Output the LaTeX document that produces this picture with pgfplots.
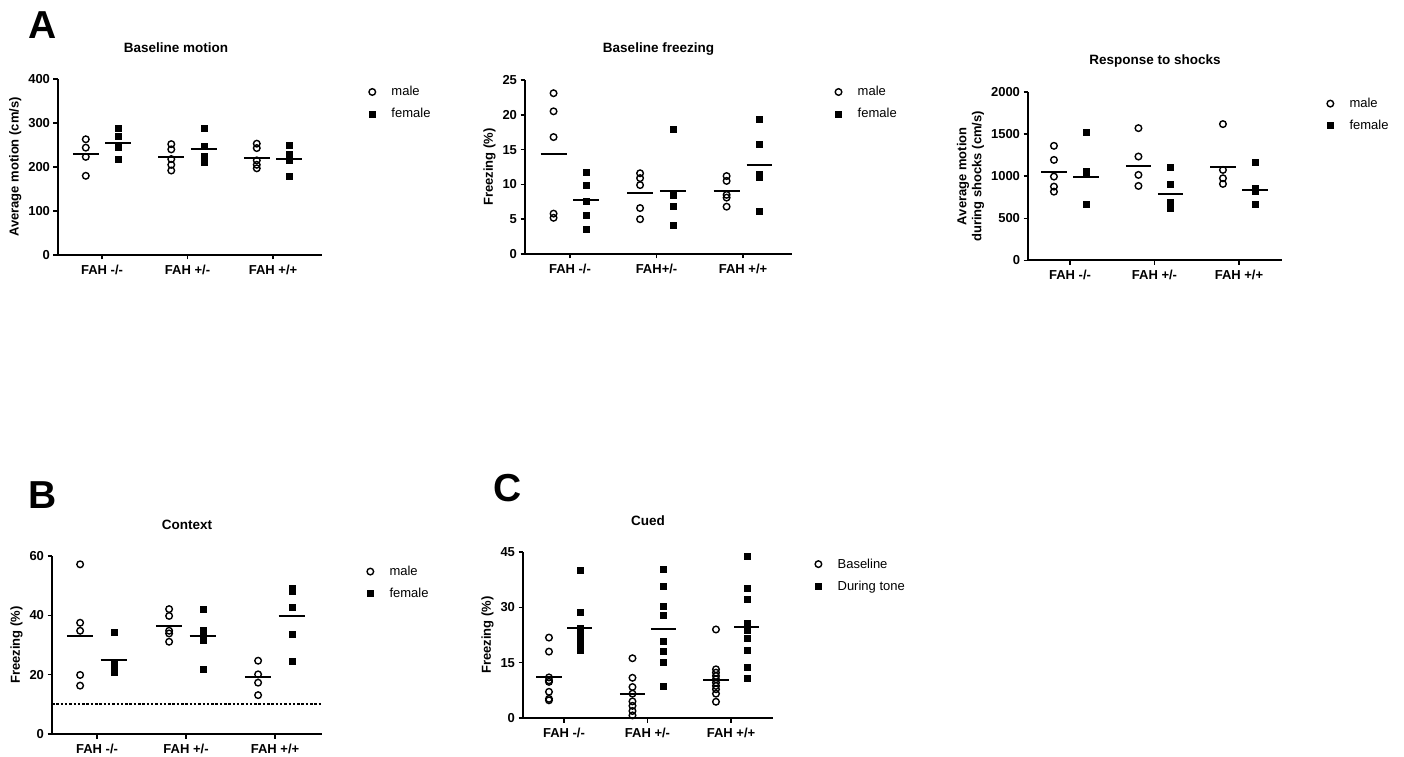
\documentclass[border=0pt]{standalone}
\usepackage{fontspec}
\setmainfont{Liberation Sans}
\usepackage{pgfplots}
\pgfplotsset{compat=1.18}

\newcommand{\tk}{\fontsize{13}{15}\selectfont\bfseries}

\pgfplotsset{
  gp/.style={scale only axis, axis lines=left, axis line style={-, line width=2pt},
    tick align=outside, major tick length=4.5pt, every tick/.style={black, line width=1.6pt},
    xtick={1,2,3}, ymin=0, clip=false,
    tick label style={font=\tk}, label style={font=\tk},
    xticklabel style={yshift=-2pt},
    /pgf/number format/assume math mode=true, /pgf/number format/1000 sep={},
    title style={font=\fontsize{13.5}{15}\selectfont\bfseries, at={(0.5,1)}, anchor=base, yshift=21pt},
    legend style={draw=none, fill=none, font=\fontsize{13}{15}\selectfont, anchor=west,
      row sep=7pt, inner sep=0pt},
    legend cell align=left},
  male/.style={only marks, mark=o, mark size=3.3pt, mark options={line width=1.4pt, black},
    legend image code/.code={\draw[##1] plot coordinates {(0pt,0pt)}; \path (-5pt,0pt) (17pt,0pt);}},
  female/.style={only marks, mark=square*, mark size=3pt, black,
    legend image code/.code={\draw[##1] plot coordinates {(0pt,0pt)}; \path (-5pt,0pt) (17pt,0pt);}},
  mean/.style={black, line width=2pt, forget plot},
}

\begin{document}
\begin{tikzpicture}
\path[use as bounding box] (0pt,0pt) rectangle (1404pt,756pt);

\node[font=\fontsize{39}{40}\selectfont\bfseries] at (43pt,731pt) {A};
\node[font=\fontsize{39}{40}\selectfont\bfseries] at (43pt,261pt) {B};
\node[font=\fontsize{39}{40}\selectfont\bfseries] at (508pt,268pt) {C};

% A1 baseline motion
\begin{axis}[gp, at={(58pt,501pt)}, anchor=south west, width=264pt, height=176pt,
  xmin=0.485, xmax=3.573, ymax=400, ytick={0,100,200,300,400},
  xticklabels={FAH -/-,FAH +/-,FAH +/+},
  ylabel={Average motion (cm/s)}, title={Baseline motion}, title style={at={(0.447,1)}},
  legend style={at={(axis description cs:1.170,0.864)}}]
\addplot[male] coordinates {(0.81,263)(0.81,244)(0.81,223)(0.81,180)
  (1.81,252)(1.81,240)(1.81,218)(1.81,205)(1.81,192)
  (2.81,253)(2.81,243)(2.81,215)(2.81,205)(2.81,197)};
\addplot[female] coordinates {(1.19,288)(1.19,270)(1.19,244)(1.19,218)
  (2.19,288)(2.19,247)(2.19,225)(2.19,212)
  (3.19,250)(3.19,229)(3.19,215)(3.19,180)};
\legend{male,female}
\addplot[mean] coordinates {(0.66,230)(0.96,230)};
\addplot[mean] coordinates {(1.04,255)(1.34,255)};
\addplot[mean] coordinates {(1.66,223)(1.96,223)};
\addplot[mean] coordinates {(2.04,242)(2.34,242)};
\addplot[mean] coordinates {(2.66,221)(2.96,221)};
\addplot[mean] coordinates {(3.04,219)(3.34,219)};
\end{axis}

% A2 baseline freezing
\begin{axis}[gp, at={(525pt,502pt)}, anchor=south west, width=267pt, height=174pt,
  xmin=0.48, xmax=3.566, ymax=25, ytick={0,5,10,15,20,25},
  xticklabels={FAH -/-,FAH+/-,FAH +/+},
  ylabel={Freezing (\%)}, title={Baseline freezing},
  legend style={at={(axis description cs:1.154,0.868)}}]
\addplot[male] coordinates {(0.81,23.1)(0.81,20.5)(0.81,16.8)(0.81,5.8)(0.81,5.2)
  (1.81,11.6)(1.81,10.9)(1.81,9.9)(1.81,6.6)(1.81,5.0)
  (2.81,11.2)(2.81,10.5)(2.81,8.5)(2.81,8.1)(2.81,6.8)};
\addplot[female] coordinates {(1.19,11.7)(1.19,9.9)(1.19,7.6)(1.19,5.6)(1.19,3.6)
  (2.19,17.9)(2.19,8.4)(2.19,6.8)(2.19,4.2)
  (3.19,19.4)(3.19,15.8)(3.19,11.5)(3.19,11.0)(3.19,6.2)};
\legend{male,female}
\addplot[mean] coordinates {(0.66,14.3)(0.96,14.3)};
\addplot[mean] coordinates {(1.04,7.8)(1.34,7.8)};
\addplot[mean] coordinates {(1.66,8.75)(1.96,8.75)};
\addplot[mean] coordinates {(2.04,9.1)(2.34,9.1)};
\addplot[mean] coordinates {(2.66,9.1)(2.96,9.1)};
\addplot[mean] coordinates {(3.04,12.8)(3.34,12.8)};
\end{axis}

% A3 response to shocks
\begin{axis}[gp, at={(1028pt,495.5pt)}, anchor=south west, width=254pt, height=168.5pt,
  xmin=0.503, xmax=3.509, ymax=2000, ytick={0,500,1000,1500,2000},
  xticklabels={FAH -/-,FAH +/-,FAH +/+},
  ylabel={Average motion\\during shocks (cm/s)}, ylabel style={align=center},
  title={Response to shocks},
  legend style={at={(axis description cs:1.169,0.866)}}]
\addplot[male] coordinates {(0.81,1361)(0.81,1194)(0.81,996)(0.81,877)(0.81,817)
  (1.81,1571)(1.81,1234)(1.81,1016)(1.81,885)
  (2.81,1619)(2.81,1075)(2.81,976)(2.81,909)};
\addplot[female] coordinates {(1.19,1524)(1.19,1065)(1.19,1040)(1.19,667)
  (2.19,1103)(2.19,905)(2.19,690)(2.19,640)(2.19,620)
  (3.19,1167)(3.19,857)(3.19,817)(3.19,671)};
\legend{male,female}
\addplot[mean] coordinates {(0.66,1048)(0.96,1048)};
\addplot[mean] coordinates {(1.04,996)(1.34,996)};
\addplot[mean] coordinates {(1.66,1123)(1.96,1123)};
\addplot[mean] coordinates {(2.04,790)(2.34,790)};
\addplot[mean] coordinates {(2.66,1115)(2.96,1115)};
\addplot[mean] coordinates {(3.04,837)(3.34,837)};
\end{axis}

% B context
\begin{axis}[gp, at={(52pt,22pt)}, anchor=south west, width=270pt, height=178pt,
  xmin=0.494, xmax=3.528, ymax=60, ytick={0,20,40,60},
  xticklabels={FAH -/-,FAH +/-,FAH +/+},
  ylabel={Freezing (\%)}, title={Context},
  legend style={at={(axis description cs:1.159,0.851)}}]
\addplot[male] coordinates {(0.81,57.2)(0.81,37.5)(0.81,34.8)(0.81,19.9)(0.81,16.3)
  (1.81,42.1)(1.81,39.8)(1.81,34.8)(1.81,33.9)(1.81,31.1)
  (2.81,24.7)(2.81,20.1)(2.81,17.3)(2.81,13.1)};
\addplot[female] coordinates {(1.19,34.4)(1.19,23.5)(1.19,22.5)(1.19,21.5)(1.19,20.8)
  (2.19,42)(2.19,35)(2.19,33.4)(2.19,31.7)(2.19,21.9)
  (3.19,49.1)(3.19,48.2)(3.19,42.9)(3.19,33.7)(3.19,24.4)};
\legend{male,female}
\addplot[mean] coordinates {(0.66,33.0)(0.96,33.0)};
\addplot[mean] coordinates {(1.04,24.9)(1.34,24.9)};
\addplot[mean] coordinates {(1.66,36.4)(1.96,36.4)};
\addplot[mean] coordinates {(2.04,33.0)(2.34,33.0)};
\addplot[mean] coordinates {(2.66,19.3)(2.96,19.3)};
\addplot[mean] coordinates {(3.04,39.8)(3.34,39.8)};
\addplot[forget plot, black, line width=1.8pt, dash pattern=on 2.5pt off 1.8pt] coordinates {(0.494,10)(3.528,10)};
\end{axis}

% C cued
\begin{axis}[gp, at={(523pt,38pt)}, anchor=south west, width=250pt, height=166pt,
  xmin=0.509, xmax=3.503, ymax=45, ytick={0,15,30,45},
  xticklabels={FAH -/-,FAH +/-,FAH +/+},
  ylabel={Freezing (\%)}, title={Cued},
  legend style={at={(axis description cs:1.16,0.861)}}]
\addplot[male] coordinates {(0.82,21.8)(0.82,18.0)(0.82,11.0)(0.82,10.2)(0.82,9.8)(0.82,7.1)(0.82,5.2)(0.82,4.8)
  (1.82,16.2)(1.82,10.9)(1.82,8.4)(1.82,6.6)(1.82,4.5)(1.82,3.3)(1.82,1.9)(1.82,0.7)
  (2.82,24.0)(2.82,13.2)(2.82,12.3)(2.82,11.4)(2.82,10.5)(2.82,9.6)(2.82,8.7)(2.82,7.8)(2.82,6.6)(2.82,4.4)};
\addplot[female] coordinates {(1.19,40.2)(1.19,28.8)(1.19,24.3)(1.19,23.0)(1.19,21.6)(1.19,19.8)(1.19,18.4)
  (2.19,40.4)(2.19,35.7)(2.19,30.2)(2.19,27.9)(2.19,20.7)(2.19,18.1)(2.19,15.2)(2.19,8.6)
  (3.19,43.8)(3.19,35.2)(3.19,32.2)(3.19,25.6)(3.19,23.9)(3.19,21.6)(3.19,18.4)(3.19,13.9)(3.19,10.9)};
\legend{Baseline,During tone}
\addplot[mean] coordinates {(0.67,11.2)(0.97,11.2)};
\addplot[mean] coordinates {(1.04,24.3)(1.34,24.3)};
\addplot[mean] coordinates {(1.67,6.4)(1.97,6.4)};
\addplot[mean] coordinates {(2.04,24.2)(2.34,24.2)};
\addplot[mean] coordinates {(2.67,10.3)(2.97,10.3)};
\addplot[mean] coordinates {(3.04,24.8)(3.34,24.8)};
\end{axis}
\end{tikzpicture}
\end{document}
